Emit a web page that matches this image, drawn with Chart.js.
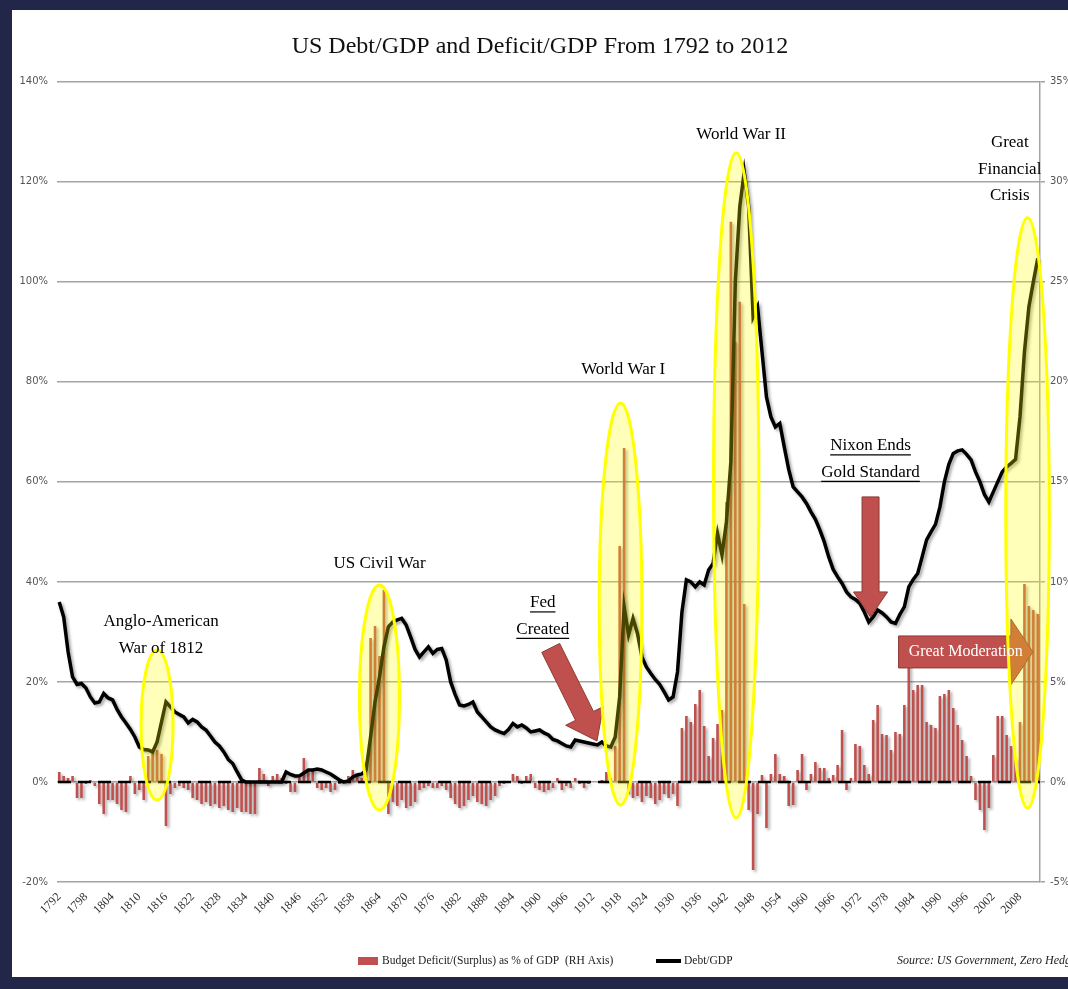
<!DOCTYPE html>
<html>
<head>
<meta charset="utf-8">
<script src="https://cdn.jsdelivr.net/npm/chart.js@4/dist/chart.umd.min.js"></script>
<style>
  html, body { margin: 0; padding: 0; background: #222648; }
  #wrap { position: relative; width: 1068px; height: 989px; }
</style>
</head>
<body>
<div id="wrap"><canvas id="chartJS"></canvas></div>
<script>
// years on the category axis, 1792..2012
const firstYear = 1792;
const years = Array.from({ length: 221 }, (_, i) => firstYear + i);

// only these years get a label under the axis
const tickYears = [1792, 1798, 1804, 1810, 1816, 1822, 1828, 1834, 1840, 1846, 1852, 1858, 1864,
  1870, 1876, 1882, 1888, 1894, 1900, 1906, 1912, 1918, 1924, 1930, 1936, 1942, 1948, 1954,
  1960, 1966, 1972, 1978, 1984, 1990, 1996, 2002, 2008];

// Debt / GDP in %, one value per year (left axis)
const debtGdp = [
  36, 33, 26, 21, 19.5, 19.7, 18.8, 17, 15.8, 16,            // 1792
  17.7, 16.8, 16.4, 14.5, 13, 11.8, 10.5, 9, 7, 6.5,         // 1802
  6.4, 6, 8, 12, 16, 15, 14, 13.5, 13, 11.8,                 // 1812
  12.5, 12, 11, 10.4, 9.2, 8, 7.2, 6, 4.5, 3.7,              // 1822
  2, 0.4, 0, 0, 0, 0, 0, 0, 0, 0,                            // 1832
  0, 2, 1.5, 1.2, 1.2, 1.8, 2.4, 2.4, 2.6, 2.4,              // 1842
  2, 1.6, 1, 0.4, 0, 0.2, 1, 1.4, 1.6, 2.4,                  // 1852
  9, 16, 21, 27, 31, 32, 32.4, 32.7, 31.4, 29,               // 1862
  26.5, 25, 26, 27, 25.7, 26.5, 26.7, 24.4, 20, 17.5,        // 1872
  15.4, 15.2, 15.5, 16, 14, 13, 12, 11, 10.4, 10,            // 1882
  9.7, 10.5, 11.7, 11, 11.4, 10.8, 10, 10.2, 10.4, 9.8,      // 1892
  9.4, 8.5, 8.2, 7.7, 7.2, 7, 8.4, 8.2, 8, 7.8,              // 1902
  7.6, 7.4, 8, 7.2, 7, 9, 17, 35, 29.4, 32.7,                // 1912
  29.7, 25, 23, 21.7, 20.5, 19.5, 18, 16.4, 17, 22,          // 1922
  34, 40.4, 40, 39, 40, 39.4, 42.4, 43.7, 49.7, 45.4,        // 1932
  52, 64, 100, 115, 122, 115, 93, 95, 86, 77,                // 1942
  73, 71, 71.7, 67, 62.5, 59, 58, 57, 55.7, 54,              // 1952
  52.5, 50.4, 48, 45, 42.5, 41, 39.7, 38, 37, 36.5,          // 1962
  35.7, 34, 32, 33, 34.4, 33.8, 33, 32, 31.7, 33.5,          // 1972
  35, 39, 40.5, 41.7, 45, 48.4, 50, 51.5, 55, 60,            // 1982
  63.5, 65.7, 66.2, 66.4, 65.5, 64.4, 62, 60, 57.5, 56,      // 1992
  58, 60, 62, 63, 63.7, 64.5, 73, 86, 95, 100,               // 2002
  104.7                                                      // 2012
];

// Budget deficit (+) / surplus (-) as % of GDP (right axis)
const deficitGdp = [
  0.5, 0.3, 0.2, 0.3, -0.8, -0.8, -0.1, 0.1, -0.2, -1.1,     // 1792
  -1.6, -0.9, -0.9, -1.1, -1.4, -1.5, 0.3, -0.6, -0.4, -0.9, // 1802
  1.3, 1.5, 1.6, 1.4, -2.2, -0.6, -0.3, -0.2, -0.3, -0.4,    // 1812
  -0.8, -0.9, -1.1, -1.0, -1.2, -1.1, -1.3, -1.2, -1.4, -1.5,// 1822
  -1.3, -1.5, -1.5, -1.6, -1.6, 0.7, 0.4, -0.2, 0.3, 0.4,    // 1832
  0.2, -0.1, -0.5, -0.5, 0.2, 1.2, 0.5, 0.6, -0.3, -0.4,     // 1842
  -0.3, -0.5, -0.4, -0.1, 0.1, 0.3, 0.6, 0.4, 0.2, 1.0,      // 1852
  7.2, 7.8, 6.3, 9.6, -1.6, -1.0, -1.2, -0.9, -1.3, -1.2,    // 1862
  -1.0, -0.4, -0.3, -0.2, -0.3, -0.3, -0.2, -0.4, -0.8, -1.1,// 1872
  -1.3, -1.2, -0.9, -0.7, -1.0, -1.1, -1.2, -0.9, -0.7, -0.2,// 1882
  -0.1, 0, 0.4, 0.3, -0.1, 0.3, 0.4, -0.3, -0.4, -0.5,       // 1892
  -0.4, -0.3, 0.2, -0.4, -0.2, -0.3, 0.2, -0.1, -0.3, -0.1,  // 1902
  0, 0, 0.1, 0.5, 0.2, 1.8, 11.8, 16.7, -0.6, -0.8,          // 1912
  -0.7, -1.0, -0.7, -0.8, -1.1, -0.9, -0.6, -0.8, -0.6, -1.2,// 1922
  2.7, 3.3, 3.0, 3.9, 4.6, 2.8, 1.3, 2.2, 2.9, 3.6,          // 1932
  14, 28, 22, 24, 8.9, -1.4, -4.4, -1.6, 0.35, -2.3,         // 1942
  0.4, 1.4, 0.4, 0.3, -1.2, -1.15, 0.6, 1.4, -0.4, 0.4,      // 1952
  1.0, 0.7, 0.7, 0.2, 0.35, 0.85, 2.6, -0.4, 0.2, 1.9,       // 1962
  1.8, 0.85, 0.4, 3.1, 3.85, 2.4, 2.35, 1.6, 2.5, 2.4,       // 1972
  3.85, 6.1, 4.6, 4.85, 4.85, 3.0, 2.85, 2.7, 4.3, 4.4,      // 1982
  4.6, 3.7, 2.85, 2.1, 1.3, 0.3, -0.9, -1.4, -2.4, -1.3,     // 1992
  1.35, 3.3, 3.3, 2.35, 1.8, 1.2, 3.0, 9.9, 8.8, 8.6,        // 2002
  8.4                                                        // 2012
];

// axis ranges
const leftRange = [-20, 140, 20];
const rightRange = [-5, 35, 5];

// highlighted periods (year / left-axis value, half sizes in the same units)
const ellipses = [
  { year: 1814, dx: 3.6, value: 11.4, dy: 15 },
  { year: 1864, dx: 4.5, value: 16.9, dy: 22.5 },
  { year: 1918.2, dx: 4.8, value: 35.6, dy: 40.2 },
  { year: 1944.2, dx: 5.1, value: 59.3, dy: 66.5 },
  { year: 2009.7, dx: 4.9, value: 53.8, dy: 59 }
];

// event captions, centred at year / left-axis value
const notes = [
  { lines: ['Anglo-American', 'War of 1812'], year: 1814.9, value: 32 },
  { lines: ['US Civil War'], year: 1864, value: 43.6 },
  { lines: ['Fed', 'Created'], year: 1900.7, value: 35.8, underline: true },
  { lines: ['World War I'], year: 1918.8, value: 82.4 },
  { lines: ['World War II'], year: 1945.3, value: 129.4 },
  { lines: ['Great', 'Financial', 'Crisis'], year: 2005.7, value: 127.8 },
  { lines: ['Nixon Ends', 'Gold Standard'], year: 1974.4, value: 67.2, underline: true }
];

// block arrows: tail -> tip in year / left-axis value
const arrows = [
  { from: [1902.5, 26.8], to: [1912.9, 8.2], shaft: 20, head: 42, headLen: 28 },
  { from: [1974.4, 57], to: [1974.4, 33], shaft: 17, head: 34, headLen: 25 },
  { from: [1980.7, 26], to: [2010.9, 26], shaft: 32, head: 66, headLen: 22, text: 'Great Moderation' }
];

const RED = '#c0504d';
const SERIF = '"Liberation Serif", "Times New Roman", serif';

function xPix(chart, year) { return chart.scales.x.getPixelForValue(year - firstYear); }
function yPix(chart, v) { return chart.scales.y.getPixelForValue(v); }

function blockArrow(ctx, x0, y0, x1, y1, a) {
  const len = Math.hypot(x1 - x0, y1 - y0);
  const ux = (x1 - x0) / len, uy = (y1 - y0) / len;
  const nx = -uy, ny = ux;
  const bx = x1 - ux * a.headLen, by = y1 - uy * a.headLen;
  const s = a.shaft / 2, h = a.head / 2;
  ctx.beginPath();
  ctx.moveTo(x0 + nx * s, y0 + ny * s);
  ctx.lineTo(bx + nx * s, by + ny * s);
  ctx.lineTo(bx + nx * h, by + ny * h);
  ctx.lineTo(x1, y1);
  ctx.lineTo(bx - nx * h, by - ny * h);
  ctx.lineTo(bx - nx * s, by - ny * s);
  ctx.lineTo(x0 - nx * s, y0 - ny * s);
  ctx.closePath();
  ctx.fillStyle = RED;
  ctx.fill();
  ctx.lineWidth = 1;
  ctx.strokeStyle = '#8c3a37';
  ctx.stroke();
}

const decorations = {
  id: 'decorations',
  beforeDraw(chart) {
    const { ctx, width, height } = chart;
    ctx.save();
    ctx.fillStyle = '#222648';
    ctx.fillRect(0, 0, width, height);
    ctx.fillStyle = '#ffffff';
    ctx.fillRect(12, 10, width - 12, height - 22);
    ctx.restore();
  },
  beforeDatasetDraw(chart) {
    const ctx = chart.ctx;
    ctx.save();
    ctx.shadowColor = 'rgba(0,0,0,0.35)';
    ctx.shadowBlur = 3;
    ctx.shadowOffsetX = 2;
    ctx.shadowOffsetY = 2;
  },
  afterDatasetDraw(chart) {
    chart.ctx.restore();
  },
  afterDatasetsDraw(chart) {
    const { ctx, chartArea } = chart;
    ctx.save();

    // dashed zero line of the deficit axis
    const y0 = chart.scales.y1.getPixelForValue(0);
    ctx.setLineDash([13, 7]);
    ctx.lineWidth = 2.5;
    ctx.strokeStyle = '#000';
    ctx.beginPath();
    ctx.moveTo(chartArea.left + 1, y0);
    ctx.lineTo(chartArea.right, y0);
    ctx.stroke();
    ctx.setLineDash([]);

    arrows.forEach(a => {
      blockArrow(ctx, xPix(chart, a.from[0]), yPix(chart, a.from[1]),
        xPix(chart, a.to[0]), yPix(chart, a.to[1]), a);
    });

    ellipses.forEach(e => {
      const cx = xPix(chart, e.year), cy = yPix(chart, e.value);
      const rx = Math.abs(xPix(chart, e.year + e.dx) - cx);
      const ry = Math.abs(yPix(chart, e.value + e.dy) - cy);
      ctx.beginPath();
      ctx.ellipse(cx, cy, rx, ry, 0, 0, Math.PI * 2);
      ctx.fillStyle = 'rgba(255,255,0,0.27)';
      ctx.fill();
      ctx.lineWidth = 3;
      ctx.strokeStyle = '#ffff00';
      ctx.stroke();
    });

    // arrow caption
    const gm = arrows[2];
    ctx.font = '16px ' + SERIF;
    ctx.fillStyle = '#fff';
    ctx.textAlign = 'center';
    ctx.textBaseline = 'middle';
    ctx.fillText(gm.text, xPix(chart, 1995.8), yPix(chart, gm.from[1]));

    ctx.font = '17px ' + SERIF;
    ctx.fillStyle = '#000';
    notes.forEach(n => {
      const cx = xPix(chart, n.year);
      let cy = yPix(chart, n.value);
      n.lines.forEach(line => {
        ctx.fillText(line, cx, cy);
        if (n.underline) {
          const w = ctx.measureText(line).width;
          ctx.lineWidth = 1.2;
          ctx.strokeStyle = '#000';
          ctx.beginPath();
          ctx.moveTo(cx - w / 2, cy + 9);
          ctx.lineTo(cx + w / 2, cy + 9);
          ctx.stroke();
        }
        cy += 26.5;
      });
    });
    ctx.restore();
  },
  afterDraw(chart) {
    const ctx = chart.ctx;
    const y = 961;
    ctx.save();
    ctx.textBaseline = 'middle';
    ctx.textAlign = 'left';
    ctx.fillStyle = RED;
    ctx.fillRect(358, y - 4, 20, 8);
    ctx.font = '11.5px ' + SERIF;
    ctx.fillStyle = '#222';
    ctx.fillText('Budget Deficit/(Surplus) as % of GDP  (RH Axis)', 382, y);
    ctx.strokeStyle = '#000';
    ctx.lineWidth = 4;
    ctx.beginPath();
    ctx.moveTo(656, y);
    ctx.lineTo(681, y);
    ctx.stroke();
    ctx.fillText('Debt/GDP', 684, y);
    ctx.font = 'italic 12px ' + SERIF;
    ctx.fillText('Source: US Government, Zero Hedge', 897, y);
    ctx.restore();
  }
};

const config = {
  type: 'bar',
  data: {
    labels: years,
    datasets: [
      {
        type: 'line',
        label: 'Debt/GDP',
        data: debtGdp,
        yAxisID: 'y',
        borderColor: '#000',
        borderWidth: 3.5,
        pointRadius: 0,
        tension: 0,
        order: 0
      },
      {
        label: 'Budget Deficit/(Surplus) as % of GDP  (RH Axis)',
        data: deficitGdp,
        yAxisID: 'y1',
        backgroundColor: RED,
        barPercentage: 0.58,
        categoryPercentage: 1,
        order: 1
      }
    ]
  },
  options: {
    responsive: false,
    animation: false,
    layout: { padding: { left: 12, right: 0, top: 10, bottom: 47 } },
    plugins: {
      legend: { display: false },
      tooltip: { enabled: false },
      title: {
        display: true,
        text: 'US Debt/GDP and Deficit/GDP From 1792 to 2012',
        color: '#111',
        font: { family: SERIF, size: 24, weight: 'normal' },
        padding: { top: 22, bottom: 21 }
      }
    },
    scales: {
      x: {
        grid: { display: false, drawTicks: false },
        border: { display: false },
        afterFit(scale) { scale.height = 60; },
        ticks: {
          autoSkip: false,
          maxRotation: 45,
          minRotation: 45,
          padding: 8,
          color: '#333',
          font: { family: SERIF, size: 12 },
          callback: (v, i) => tickYears.includes(years[i]) ? String(years[i]) : ''
        }
      },
      y: {
        position: 'left',
        min: leftRange[0], max: leftRange[1],
        afterFit(scale) { scale.width = 45; },
        grid: { color: '#a3a3a3', lineWidth: 1.5, drawTicks: false },
        border: { display: false },
        ticks: {
          stepSize: leftRange[2],
          padding: 9,
          color: '#555',
          font: { family: '"DejaVu Sans", sans-serif', size: 10 },
          callback: v => v + '%'
        }
      },
      y1: {
        position: 'right',
        min: rightRange[0], max: rightRange[1],
        afterFit(scale) { scale.width = 28; },
        grid: { drawOnChartArea: false, drawTicks: true, tickLength: 5, color: '#a3a3a3', lineWidth: 1.5 },
        border: { display: true, color: '#a3a3a3', width: 1.5 },
        ticks: {
          stepSize: rightRange[2],
          padding: 5,
          color: '#555',
          font: { family: '"DejaVu Sans", sans-serif', size: 10 },
          callback: v => v + '%'
        }
      }
    }
  },
  plugins: [decorations]
};

const canvas = document.getElementById('chartJS');
canvas.width = 1068;
canvas.height = 989;
new Chart(canvas, config);
</script>
</body>
</html>
